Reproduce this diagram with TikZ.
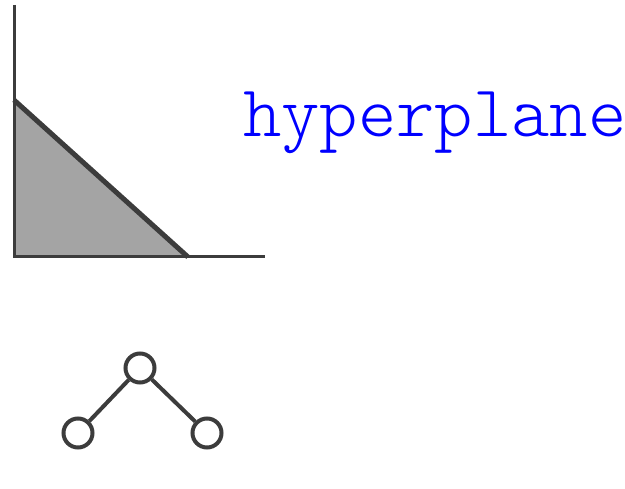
\documentclass[tikz,border=0pt]{standalone}
\usepackage{fontspec}
\newfontfamily\hpfont{Latin Modern Mono Light}
\usepackage{tikz}
\definecolor{ink}{HTML}{3C3C3C}
\definecolor{areagray}{HTML}{A4A4A4}
\definecolor{hpblue}{HTML}{0000FF}
\tikzset{
  vertex/.style={circle,draw=ink,line width=4pt,minimum size=29pt,inner sep=0pt},
  edge/.style={draw=ink,line width=4pt}
}

\begin{document}
\begin{tikzpicture}[x=1pt,y=-1pt]
                \useasboundingbox (0,0) rectangle (625,489);
                \fill[areagray] (14,100) -- (14,257) -- (188,257) -- cycle;
                \draw[ink,line width=5pt] (14,100) -- (188,257);
                \draw[ink,line width=3pt] (14,5) -- (14,257) -- (265,257);
                \node[anchor=base west,inner sep=0pt,text=hpblue,font=\hpfont\fontsize{73}{80}\selectfont] (hp) at (243,137) {hyperplane};
                \node[vertex] (root) at (140,368) {};
                \node[vertex] (left) at (78,433) {};
                \node[vertex] (right) at (207,433) {};
                \draw[edge] (root) -- (left);
                \draw[edge] (root) -- (right);
            \end{tikzpicture}
\end{document}
